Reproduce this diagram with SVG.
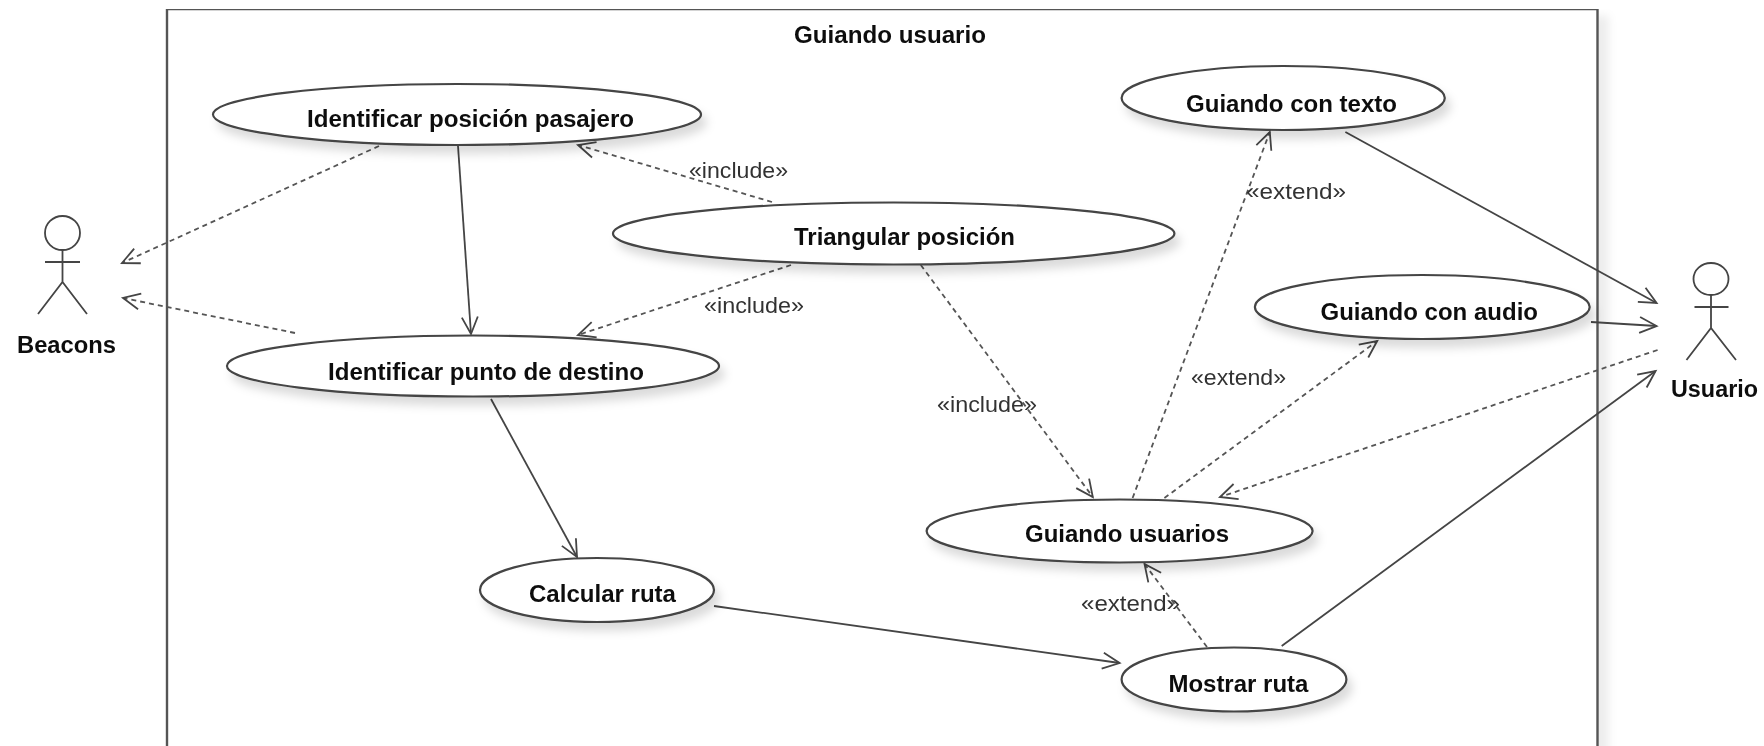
<svg xmlns="http://www.w3.org/2000/svg" width="1764" height="746" viewBox="0 0 1764 746">
<style>
text{font-family:"Liberation Sans",Arial,sans-serif;fill:#111}
.n{font-size:23px;font-weight:bold}
.l{font-size:22px;fill:#333}
.u{fill:#fff;stroke:#444;stroke-width:2.2;filter:url(#sh)}
.a{fill:none;stroke:#444;stroke-width:1.8}
.s{fill:none;stroke:#444;stroke-width:1.8;marker-end:url(#v)}
.d{fill:none;stroke:#555;stroke-width:1.8;stroke-dasharray:5 4;marker-end:url(#v)}
</style>
<defs>
<filter id="sh" x="-10%" y="-20%" width="125%" height="160%"><feDropShadow dx="5" dy="8" stdDeviation="5" flood-color="#000" flood-opacity=".14"/></filter>
<filter id="fs" x="-2%" y="-2%" width="104%" height="104%"><feDropShadow dx="10" dy="8" stdDeviation="4" flood-color="#000" flood-opacity=".07"/></filter>
<filter id="soft" x="0" y="0" width="100%" height="100%"><feGaussianBlur stdDeviation="0.6"/></filter>
<marker id="v" markerUnits="userSpaceOnUse" markerWidth="24" markerHeight="24" refX="19" refY="12" orient="auto"><path d="M2 4L19 12L2 20" fill="none" stroke="#444" stroke-width="1.8"/></marker>
</defs>
<rect width="1764" height="746" fill="#fff"/>
<g filter="url(#soft)">
<g id="frame">
<path d="M167 760V9H1597.500V760H167Z" fill="#fff" stroke="#555" stroke-width="2.4" filter="url(#fs)"/>
<text class="n" x="794" y="43" textLength="192" lengthAdjust="spacingAndGlyphs">Guiando usuario</text>
</g>
<g id="connectors">
<path class="d" d="M379 146L122 263"/>
<path class="s" d="M458 146L471 334"/>
<path class="d" d="M772 202L578 145"/>
<path class="d" d="M791 265L578 335"/>
<path class="d" d="M295 333L123 298"/>
<path class="s" d="M491 399L577 557"/>
<path class="s" d="M714 606L1119.600 663"/>
<path class="d" d="M920.800 265L1092.800 497"/>
<path class="d" d="M1132.600 498L1269.800 132"/>
<path class="d" d="M1164.400 498L1377.200 341"/>
<path class="d" d="M1657.600 350L1220 497"/>
<path class="d" d="M1207 647L1144.500 564"/>
<path class="s" d="M1345.400 132L1656.600 303"/>
<path class="s" d="M1591 322L1656.600 326"/>
<path class="s" d="M1281.700 646L1655.600 371"/>
<text class="l" x="689" y="178" textLength="99" lengthAdjust="spacingAndGlyphs">«include»</text>
<text class="l" x="704" y="313" textLength="100" lengthAdjust="spacingAndGlyphs">«include»</text>
<text class="l" x="937" y="412" textLength="100" lengthAdjust="spacingAndGlyphs">«include»</text>
<text class="l" x="1246" y="199" textLength="100" lengthAdjust="spacingAndGlyphs">«extend»</text>
<text class="l" x="1191" y="385" textLength="95" lengthAdjust="spacingAndGlyphs">«extend»</text>
<text class="l" x="1081" y="611" textLength="99" lengthAdjust="spacingAndGlyphs">«extend»</text>
</g>
<g id="uc-posicion"><ellipse class="u" cx="457" cy="114.500" rx="244" ry="30.500"/><text class="n" x="307" y="127" textLength="327" lengthAdjust="spacingAndGlyphs">Identificar posición pasajero</text></g>
<g id="uc-triangular"><ellipse class="u" cx="893.700" cy="233.500" rx="280.700" ry="31"/><text class="n" x="794" y="245" textLength="221" lengthAdjust="spacingAndGlyphs">Triangular posición</text></g>
<g id="uc-destino"><ellipse class="u" cx="473" cy="366" rx="246" ry="30.500"/><text class="n" x="328" y="380" textLength="316" lengthAdjust="spacingAndGlyphs">Identificar punto de destino</text></g>
<g id="uc-texto"><ellipse class="u" cx="1283.200" cy="98" rx="161.600" ry="32"/><text class="n" x="1186" y="112" textLength="211" lengthAdjust="spacingAndGlyphs">Guiando con texto</text></g>
<g id="uc-audio"><ellipse class="u" cx="1422.300" cy="307" rx="167.400" ry="32"/><text class="n" x="1320.500" y="320" textLength="217.500" lengthAdjust="spacingAndGlyphs">Guiando con audio</text></g>
<g id="uc-usuarios"><ellipse class="u" cx="1119.600" cy="531" rx="193" ry="31.500"/><text class="n" x="1025" y="542" textLength="204" lengthAdjust="spacingAndGlyphs">Guiando usuarios</text></g>
<g id="uc-mostrar"><ellipse class="u" cx="1234" cy="679.500" rx="112.400" ry="32"/><text class="n" x="1168.400" y="692" textLength="140" lengthAdjust="spacingAndGlyphs">Mostrar ruta</text></g>
<g id="uc-calcular"><ellipse class="u" cx="597" cy="590" rx="117" ry="32"/><text class="n" x="529" y="602" textLength="147" lengthAdjust="spacingAndGlyphs">Calcular ruta</text></g>
<g id="actor-beacons">
<ellipse class="a" cx="62.500" cy="233" rx="17.500" ry="17"/>
<path class="a" d="M45 262H80M62.500 250V282M38 314L62.500 282L87 314"/>
<text class="n" x="17" y="353" textLength="99" lengthAdjust="spacingAndGlyphs">Beacons</text>
</g>
<g id="actor-usuario">
<ellipse class="a" cx="1711" cy="279" rx="17.500" ry="16"/>
<path class="a" d="M1694.500 307H1728.500M1711 295V328M1686.500 360L1711 328L1736 360"/>
<text class="n" x="1671" y="397" textLength="87" lengthAdjust="spacingAndGlyphs">Usuario</text>
</g>
</g>
</svg>
